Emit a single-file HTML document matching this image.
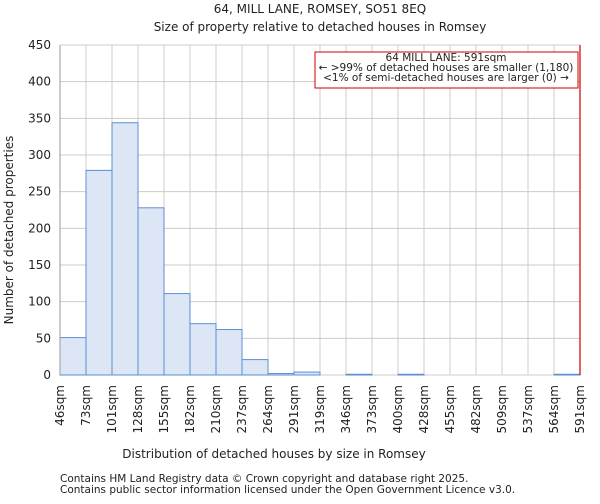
<!DOCTYPE html>
<html><head><meta charset="utf-8"><style>
body{margin:0;background:#fff;font-family:"DejaVu Sans","Liberation Sans",sans-serif}
text{font-family:"DejaVu Sans","Liberation Sans",sans-serif;fill:#222}
</style></head><body>
<svg id="c" width="600" height="500">
<text x="320" y="13" text-anchor="middle" font-size="12">64, MILL LANE, ROMSEY, SO51 8EQ</text>
<text x="320" y="31" text-anchor="middle" font-size="12">Size of property relative to detached houses in Romsey</text>
<g id="grid"></g><g id="bars"></g><g id="axes"></g>
<text x="274" y="458" text-anchor="middle" font-size="12">Distribution of detached houses by size in Romsey</text>
<text transform="translate(13,230) rotate(-90)" text-anchor="middle" font-size="12">Number of detached properties</text>
<g>
<rect x="315" y="52" width="263" height="36" fill="#fff" stroke="#c00" stroke-width="1"/>
<text x="446" y="61" text-anchor="middle" font-size="10.5">64 MILL LANE: 591sqm</text>
<text x="446" y="71" text-anchor="middle" font-size="10.5">← &gt;99% of detached houses are smaller (1,180)</text>
<text x="446" y="81" text-anchor="middle" font-size="10.5">&lt;1% of semi-detached houses are larger (0) →</text>
</g>
<text x="60" y="482" font-size="10.5" fill="#444">Contains HM Land Registry data © Crown copyright and database right 2025.</text>
<text x="60" y="493" font-size="10.5" fill="#444">Contains public sector information licensed under the Open Government Licence v3.0.</text>
</svg>
<script>
const categories=["46sqm","73sqm","101sqm","128sqm","155sqm","182sqm","210sqm","237sqm","264sqm","291sqm","319sqm","346sqm","373sqm","400sqm","428sqm","455sqm","482sqm","509sqm","537sqm","564sqm","591sqm"];
const counts=[51,279,344,228,111,70,62,21,2,4,0,1,0,1,0,0,0,0,0,1];
const yTicks=[0,50,100,150,200,250,300,350,400,450];
const highlightIndex=20;
const X0=60,X1=580,Y0=375,Y1=45,YMAX=450,NS="http://www.w3.org/2000/svg";
const bw=(X1-X0)/counts.length;
const xs=i=>X0+i*bw, ys=v=>Y0-(v/YMAX)*(Y0-Y1);
function mk(t,a,p){const e=document.createElementNS(NS,t);for(const k in a)e.setAttribute(k,a[k]);p.appendChild(e);return e;}
const g=document.getElementById('grid'),b=document.getElementById('bars'),ax=document.getElementById('axes');
yTicks.forEach(v=>{
 const l=mk('line',{x1:X0,x2:X1,y1:ys(v),y2:ys(v),stroke:'#ccc','stroke-width':1},g);
 
 
 const t=mk('text',{x:X0-9,y:ys(v)+4,'text-anchor':'end','font-size':12},ax);t.textContent=v;
 
 
});
categories.forEach((c,i)=>{
 const x=xs(i);
 const l=mk('line',{x1:x,x2:x,y1:Y1,y2:Y0,stroke:'#ccc','stroke-width':1},g);
 
 
 const t=mk('text',{transform:`translate(${x+4},${Y0+10}) rotate(-90)`,'text-anchor':'end','font-size':12},ax);t.textContent=c;
 
 
});
counts.forEach((v,i)=>{
 const r=mk('rect',{x:xs(i),y:ys(v),width:bw,height:Y0-ys(v),fill:'#dce6f4',stroke:'#5a8fd6','stroke-width':1},b);
 
 
});
const m=mk('line',{x1:xs(highlightIndex),x2:xs(highlightIndex),y1:Y1,y2:Y0,stroke:'#c00','stroke-width':1.2},ax);


const a=mk('line',{x1:X0,x2:X0,y1:Y1,y2:Y0,stroke:'#999'},ax);


</script>
</body></html>
